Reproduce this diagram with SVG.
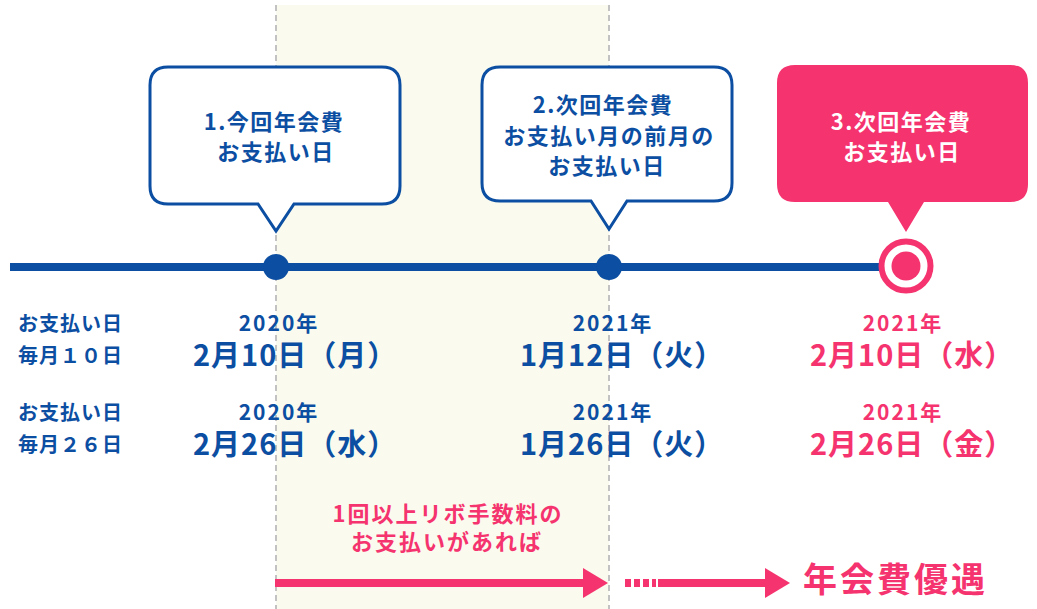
<svg xmlns="http://www.w3.org/2000/svg" width="1037" height="609" viewBox="0 0 1037 609">
<style>
text{font-family:"Noto Sans CJK JP","Noto Sans",sans-serif;font-weight:bold}
.b{fill:#0b4ea2}
.p{fill:#f5336e}
.w{fill:#ffffff}
.bub{font-size:22px;letter-spacing:1.5px;text-anchor:middle}
.lab{font-size:20px;letter-spacing:1px}
.yr{font-size:21px;letter-spacing:2px;text-anchor:middle}
.dt{font-size:29px;letter-spacing:1px}
.guide{stroke:#c2c2c2;stroke-width:2;stroke-dasharray:6 4;fill:none}
.bubble{fill:#ffffff;stroke:#0b4ea2;stroke-width:3}
</style>
<defs>
<marker id="ah" viewBox="0 0 25 30" refX="0" refY="15" markerWidth="25" markerHeight="30" markerUnits="userSpaceOnUse" orient="auto">
<path d="M0 0 L25 15 L0 30 Z" fill="#f5336e"/>
</marker>
</defs>
<rect width="1037" height="609" fill="#ffffff"/>
<g id="period">
<rect x="276" y="5" width="333" height="604" fill="#fafbee"/>
<line class="guide" x1="276" y1="5" x2="276" y2="609"/>
<line class="guide" x1="609" y1="5" x2="609" y2="609"/>
</g>
<g id="timeline">
<line x1="10" y1="267" x2="885" y2="267" stroke="#0b4ea2" stroke-width="8"/>
</g>
<g id="node1">
<path class="bubble" d="M168 67 H382 Q400 67 400 85 V186 Q400 204 382 204 H294 L276 231 L258 204 H168 Q150 204 150 186 V85 Q150 67 168 67 Z"/>
<text class="bub b" x="274" y="130">1.今回年会費</text>
<text class="bub b" x="276" y="160">お支払い日</text>
<circle cx="276" cy="267" r="13" fill="#0b4ea2"/>
</g>
<g id="node2">
<path class="bubble" d="M500 67 H714 Q732 67 732 85 V183 Q732 201 714 201 H627 L609 229 L591 201 H500 Q482 201 482 183 V85 Q482 67 500 67 Z"/>
<text class="bub b" x="603" y="113">2.次回年会費</text>
<text class="bub b" x="609" y="144">お支払い月の前月の</text>
<text class="bub b" x="607" y="174">お支払い日</text>
<circle cx="609" cy="267" r="13" fill="#0b4ea2"/>
</g>
<g id="node3">
<path fill="#f5336e" d="M795 65 H1010 Q1028 65 1028 83 V184 Q1028 202 1010 202 H924 L906 232 L888 202 H795 Q777 202 777 184 V83 Q777 65 795 65 Z"/>
<text class="bub w" x="901" y="130">3.次回年会費</text>
<text class="bub w" x="902" y="160">お支払い日</text>
<circle cx="906" cy="266" r="24.5" fill="#ffffff" stroke="#f5336e" stroke-width="6"/>
<circle cx="906" cy="266" r="14.5" fill="#f5336e"/>
</g>
<g id="row-labels">
<text class="lab b" x="18" y="331">お支払い日</text>
<text class="lab b" x="18" y="363">毎月１０日</text>
<text class="lab b" x="18" y="420">お支払い日</text>
<text class="lab b" x="18" y="452">毎月２６日</text>
</g>
<g id="dates1">
<text class="yr b" x="279" y="331">2020年</text>
<text class="dt b" x="193" y="366">2月10日（月）</text>
<text class="yr b" x="279" y="420">2020年</text>
<text class="dt b" x="193" y="455">2月26日（水）</text>
</g>
<g id="dates2">
<text class="yr b" x="613" y="331">2021年</text>
<text class="dt b" x="520" y="366">1月12日（火）</text>
<text class="yr b" x="613" y="420">2021年</text>
<text class="dt b" x="520" y="455">1月26日（火）</text>
</g>
<g id="dates3">
<text class="yr p" x="903" y="331">2021年</text>
<text class="dt p" x="810" y="366">2月10日（水）</text>
<text class="yr p" x="903" y="420">2021年</text>
<text class="dt p" x="810" y="455">2月26日（金）</text>
</g>
<g id="condition">
<text class="p" x="448" y="522" font-size="22" letter-spacing="2" text-anchor="middle">1回以上リボ手数料の</text>
<text class="p" x="447" y="550" font-size="22" letter-spacing="2" text-anchor="middle">お支払いがあれば</text>
</g>
<g id="connectors">
<line x1="275" y1="583" x2="583" y2="583" stroke="#f5336e" stroke-width="8" marker-end="url(#ah)"/>
<line x1="625" y1="583" x2="656" y2="583" stroke="#f5336e" stroke-width="8" stroke-dasharray="6 3"/>
<line x1="658" y1="583" x2="765" y2="583" stroke="#f5336e" stroke-width="8" marker-end="url(#ah)"/>
</g>
<g id="benefit">
<text class="p" x="803" y="592" font-size="34" letter-spacing="3">年会費優遇</text>
</g>
</svg>
